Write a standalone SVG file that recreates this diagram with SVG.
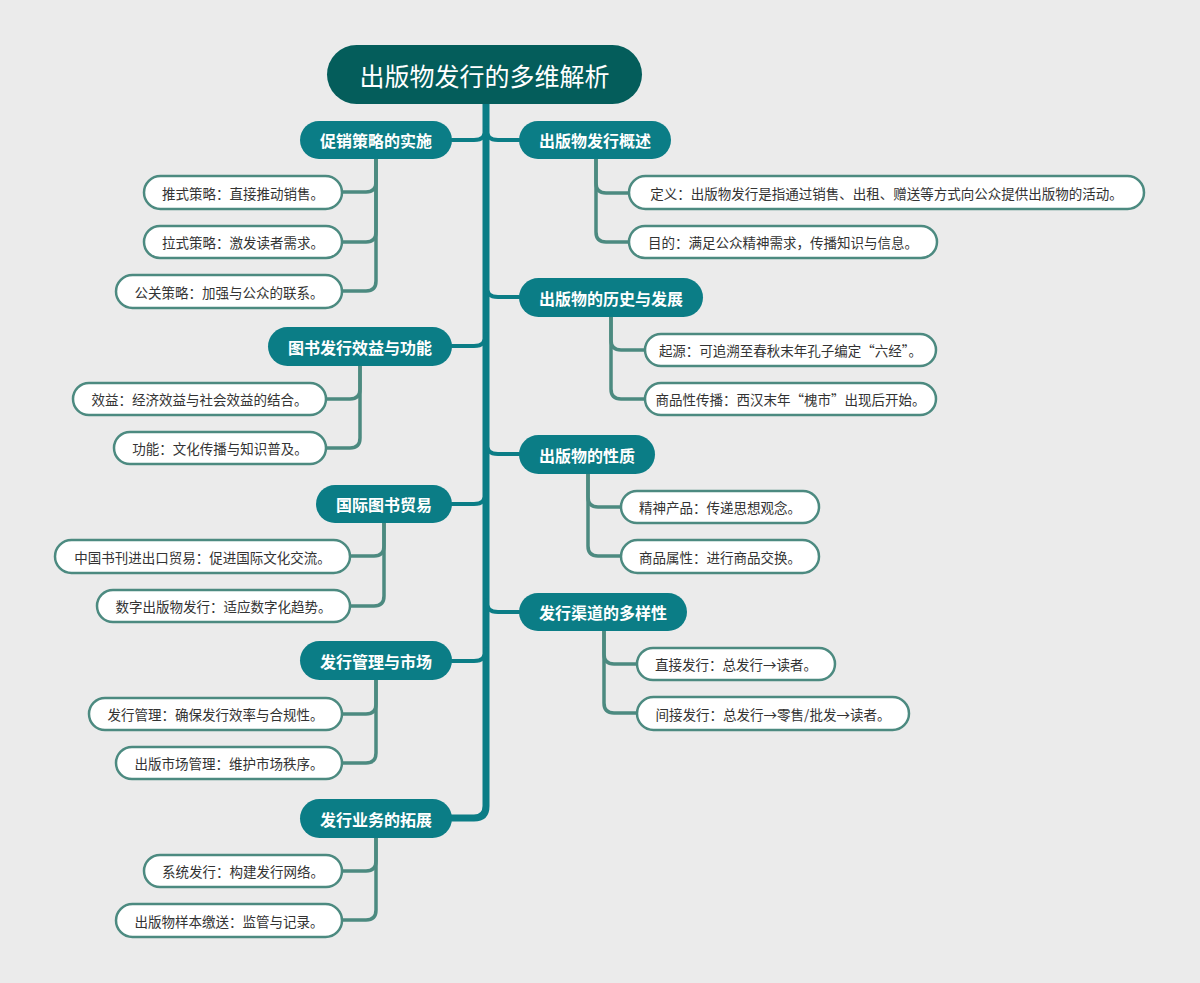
<svg xmlns="http://www.w3.org/2000/svg" width="1200" height="983" viewBox="0 0 1200 983">
<style>
.bg{fill:#ebebeb}
.root rect{fill:#045d5b}
.root text{fill:#ffffff;font-size:25px;font-family:"Noto Sans CJK SC","Noto Sans",sans-serif;text-anchor:middle;dominant-baseline:central}
.topic rect{fill:#0b7d86}
.topic text{fill:#ffffff;font-size:16px;font-weight:bold;font-family:"Noto Sans CJK SC","Noto Sans",sans-serif;text-anchor:middle;dominant-baseline:central}
.sub rect{fill:#ffffff;stroke:#4c8a80;stroke-width:2.5}
.sub text{fill:#333333;font-size:13.5px;font-family:"Noto Sans CJK SC","Noto Sans",sans-serif;text-anchor:middle;dominant-baseline:central}
.trunk{fill:none;stroke:#0b7d86;stroke-width:7;stroke-linecap:round}
.main{fill:none;stroke:#0b7d86;stroke-width:4;stroke-linecap:round}
.leaf{fill:none;stroke:#4c8a80;stroke-width:3.5;stroke-linecap:round}
</style>
<rect class="bg" x="0" y="0" width="1200" height="983"/>
<g id="connectors">
<path class="trunk" d="M486,100 L486,806 Q486,818 474,818 L452,818"/>
<path class="main" d="M486,128 Q486,140 474,140 L452,140"/>
<path class="main" d="M486,334 Q486,346 474,346 L452,346"/>
<path class="main" d="M486,492 Q486,504 474,504 L452,504"/>
<path class="main" d="M486,649 Q486,661 474,661 L452,661"/>
<path class="main" d="M486,128 Q486,140 498,140 L519,140"/>
<path class="main" d="M486,285 Q486,297 498,297 L519,297"/>
<path class="main" d="M486,442 Q486,454 498,454 L519,454"/>
<path class="main" d="M486,600 Q486,612 498,612 L519,612"/>
<path class="leaf" d="M376,159 L376,182 Q376,192 366,192 L342,192"/>
<path class="leaf" d="M376,159 L376,232 Q376,242 366,242 L342,242"/>
<path class="leaf" d="M376,159 L376,281 Q376,291 366,291 L342,291"/>
<path class="leaf" d="M360,366 L360,389 Q360,399 350,399 L326,399"/>
<path class="leaf" d="M360,366 L360,438 Q360,448 350,448 L326,448"/>
<path class="leaf" d="M384,523 L384,546 Q384,556 374,556 L350,556"/>
<path class="leaf" d="M384,523 L384,596 Q384,606 374,606 L350,606"/>
<path class="leaf" d="M376,680 L376,704 Q376,714 366,714 L342,714"/>
<path class="leaf" d="M376,680 L376,753 Q376,763 366,763 L342,763"/>
<path class="leaf" d="M376,838 L376,861 Q376,871 366,871 L342,871"/>
<path class="leaf" d="M376,838 L376,910 Q376,920 366,920 L342,920"/>
<path class="leaf" d="M596,159 L596,183 Q596,193 606,193 L629,193"/>
<path class="leaf" d="M596,159 L596,232 Q596,242 606,242 L629,242"/>
<path class="leaf" d="M611,317 L611,340 Q611,350 621,350 L645,350"/>
<path class="leaf" d="M611,317 L611,389 Q611,399 621,399 L645,399"/>
<path class="leaf" d="M588,474 L588,497 Q588,507 598,507 L621,507"/>
<path class="leaf" d="M588,474 L588,546 Q588,556 598,556 L621,556"/>
<path class="leaf" d="M604,631 L604,654 Q604,664 614,664 L637,664"/>
<path class="leaf" d="M604,631 L604,703 Q604,713 614,713 L637,713"/>
</g>
<g id="root" class="root"><rect x="327" y="45" width="315" height="59" rx="29.5"/><text x="484.5" y="75">出版物发行的多维解析</text></g>
<g id="t1" class="topic"><rect x="300" y="121" width="152" height="38" rx="19"/><text x="376" y="140">促销策略的实施</text></g>
<g id="t2" class="topic"><rect x="268" y="327" width="184" height="39" rx="19.5"/><text x="360" y="346.5">图书发行效益与功能</text></g>
<g id="t3" class="topic"><rect x="316" y="485" width="136" height="38" rx="19"/><text x="384" y="504">国际图书贸易</text></g>
<g id="t4" class="topic"><rect x="300" y="641" width="152" height="39" rx="19.5"/><text x="376" y="660.5">发行管理与市场</text></g>
<g id="t5" class="topic"><rect x="300" y="799" width="152" height="39" rx="19.5"/><text x="376" y="818.5">发行业务的拓展</text></g>
<g id="t6" class="topic"><rect x="519" y="121" width="152" height="38" rx="19"/><text x="595" y="140">出版物发行概述</text></g>
<g id="t7" class="topic"><rect x="519" y="278" width="184" height="39" rx="19.5"/><text x="611" y="297.5">出版物的历史与发展</text></g>
<g id="t8" class="topic"><rect x="519" y="435" width="136" height="39" rx="19.5"/><text x="587" y="454.5">出版物的性质</text></g>
<g id="t9" class="topic"><rect x="519" y="593" width="168" height="38" rx="19"/><text x="603" y="612">发行渠道的多样性</text></g>
<g id="s1" class="sub"><rect x="144" y="176" width="198" height="33" rx="16.5"/><text x="243" y="192.5">推式策略：直接推动销售。</text></g>
<g id="s2" class="sub"><rect x="144" y="226" width="198" height="32" rx="16"/><text x="243" y="242">拉式策略：激发读者需求。</text></g>
<g id="s3" class="sub"><rect x="116" y="275" width="226" height="33" rx="16.5"/><text x="229" y="291.5">公关策略：加强与公众的联系。</text></g>
<g id="s4" class="sub"><rect x="73" y="383" width="253" height="32" rx="16"/><text x="199.5" y="399">效益：经济效益与社会效益的结合。</text></g>
<g id="s5" class="sub"><rect x="114" y="432" width="212" height="32" rx="16"/><text x="220" y="448">功能：文化传播与知识普及。</text></g>
<g id="s6" class="sub"><rect x="55" y="540" width="295" height="33" rx="16.5"/><text x="202.5" y="556.5">中国书刊进出口贸易：促进国际文化交流。</text></g>
<g id="s7" class="sub"><rect x="97" y="590" width="253" height="32" rx="16"/><text x="223.5" y="606">数字出版物发行：适应数字化趋势。</text></g>
<g id="s8" class="sub"><rect x="89" y="698" width="253" height="32" rx="16"/><text x="215.5" y="714">发行管理：确保发行效率与合规性。</text></g>
<g id="s9" class="sub"><rect x="116" y="747" width="226" height="32" rx="16"/><text x="229" y="763">出版市场管理：维护市场秩序。</text></g>
<g id="s10" class="sub"><rect x="144" y="855" width="198" height="32" rx="16"/><text x="243" y="871">系统发行：构建发行网络。</text></g>
<g id="s11" class="sub"><rect x="116" y="904" width="226" height="33" rx="16.5"/><text x="229" y="920.5">出版物样本缴送：监管与记录。</text></g>
<g id="s12" class="sub"><rect x="629" y="176" width="515" height="33" rx="16.5"/><text x="886.5" y="192.5">定义：出版物发行是指通过销售、出租、赠送等方式向公众提供出版物的活动。</text></g>
<g id="s13" class="sub"><rect x="629" y="226" width="308" height="32" rx="16"/><text x="783" y="242">目的：满足公众精神需求，传播知识与信息。</text></g>
<g id="s14" class="sub"><rect x="645" y="334" width="291" height="32" rx="16"/><text x="790.5" y="350">起源：可追溯至春秋末年孔子编定“六经”。</text></g>
<g id="s15" class="sub"><rect x="645" y="383" width="291" height="32" rx="16"/><text x="790.5" y="399">商品性传播：西汉末年“槐市”出现后开始。</text></g>
<g id="s16" class="sub"><rect x="621" y="491" width="198" height="32" rx="16"/><text x="720" y="507">精神产品：传递思想观念。</text></g>
<g id="s17" class="sub"><rect x="621" y="540" width="198" height="33" rx="16.5"/><text x="720" y="556.5">商品属性：进行商品交换。</text></g>
<g id="s18" class="sub"><rect x="637" y="648" width="198" height="32" rx="16"/><text x="736" y="664">直接发行：总发行→读者。</text></g>
<g id="s19" class="sub"><rect x="637" y="697" width="272" height="33" rx="16.5"/><text x="773" y="713.5">间接发行：总发行→零售/批发→读者。</text></g>
</svg>
